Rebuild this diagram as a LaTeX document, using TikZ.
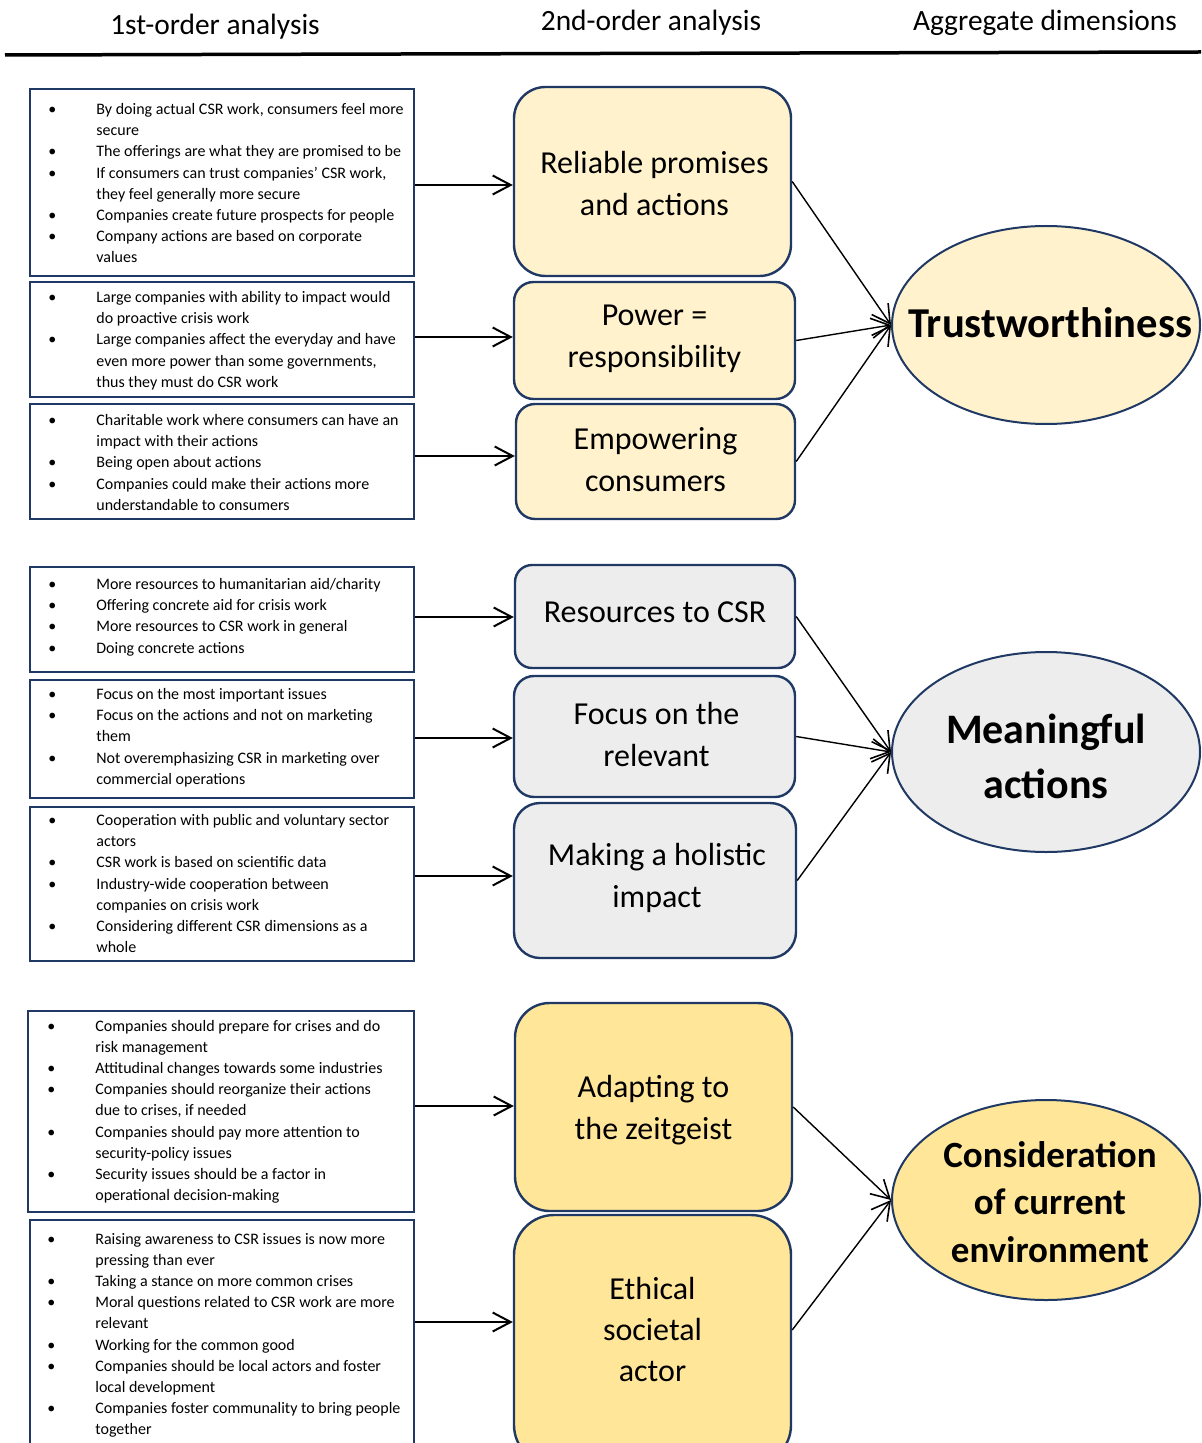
\documentclass[tikz,border=0pt]{standalone}
\usepackage{fontspec}
\setmainfont{Carlito}
\usetikzlibrary{arrows.meta,fit,shapes.geometric,calc}

\definecolor{navy}{HTML}{1F3864}
\definecolor{paleyellow}{HTML}{FFF2CC}
\definecolor{palegrey}{HTML}{EDEDED}
\definecolor{gold}{HTML}{FFE699}

% bullet list used inside the first-order boxes
\newenvironment{codelist}{\begin{tabular}[t]{@{}p{24pt}@{}l@{}}}{\end{tabular}}

\tikzset{
  listbox/.style={draw=navy, line width=1.35pt, inner sep=0pt},
  listtext/.style={anchor=base west, inner sep=0pt, font=\fontsize{8}{10.6}\selectfont},
  codebox/.style={draw=navy, line width=1.2pt, inner sep=0pt},
  codetext/.style={align=center, inner sep=0pt, font=\fontsize{16}{21}\selectfont},
  dimension/.style={ellipse, draw=navy, line width=1pt, inner sep=0pt, minimum width=154pt},
  dimtext/.style={align=center, inner sep=0pt},
  feed/.style={line width=1pt, -{Straight Barb[length=9pt,width=9.5pt,line width=1pt]}},
  link/.style={line width=0.7pt, -{Straight Barb[length=9pt,width=10pt,line width=0.8pt]}},
  header/.style={inner sep=0pt, font=\fontsize{14.7}{17}\selectfont},
}

\begin{document}
\begin{tikzpicture}[x=0.5pt,y=-0.5pt]
\useasboundingbox (0,0) rectangle (1201,1443);

% column headers
\node[header] (h1) at (215,27) {1st-order analysis};
\node[header] (h2) at (651,23) {2nd-order analysis};
\node[header] (h3) at (1045,23) {Aggregate dimensions};
\draw[line width=1.75pt] (5,55) -- (1201,52);

% ---------- first-order boxes ----------
\node[listbox, fit={(30,89) (414,276)}] (L1) {};
\node[listtext] (T1) at (48,114.5) {\begin{codelist}
\textbullet & By doing actual CSR work, consumers feel more\\
 & secure\\
\textbullet & The offerings are what they are promised to be\\
\textbullet & If consumers can trust companies’ CSR work,\\
 & they feel generally more secure\\
\textbullet & Companies create future prospects for people\\
\textbullet & Company actions are based on corporate\\
 & values
\end{codelist}};

\node[listbox, fit={(30,282) (414,397)}] (L2) {};
\node[listtext] (T2) at (48,302.5) {\begin{codelist}
\textbullet & Large companies with ability to impact would\\
 & do proactive crisis work\\
\textbullet & Large companies affect the everyday and have\\
 & even more power than some governments,\\
 & thus they must do CSR work
\end{codelist}};

\node[listbox, fit={(30,404) (414,519)}] (L3) {};
\node[listtext] (T3) at (48,425.5) {\begin{codelist}
\textbullet & Charitable work where consumers can have an\\
 & impact with their actions\\
\textbullet & Being open about actions\\
\textbullet & Companies could make their actions more\\
 & understandable to consumers
\end{codelist}};

\node[listbox, fit={(30,567) (414,672)}] (L4) {};
\node[listtext] (T4) at (48,589.5) {\begin{codelist}
\textbullet & More resources to humanitarian aid/charity\\
\textbullet & Offering concrete aid for crisis work\\
\textbullet & More resources to CSR work in general\\
\textbullet & Doing concrete actions
\end{codelist}};

\node[listbox, fit={(30,680) (414,798)}] (L5) {};
\node[listtext] (T5) at (48,699.5) {\begin{codelist}
\textbullet & Focus on the most important issues\\
\textbullet & Focus on the actions and not on marketing\\
 & them\\
\textbullet & Not overemphasizing CSR in marketing over\\
 & commercial operations
\end{codelist}};

\node[listbox, fit={(30,807) (414,961)}] (L6) {};
\node[listtext] (T6) at (48,825.5) {\begin{codelist}
\textbullet & Cooperation with public and voluntary sector\\
 & actors\\
\textbullet & CSR work is based on scientific data\\
\textbullet & Industry-wide cooperation between\\
 & companies on crisis work\\
\textbullet & Considering different CSR dimensions as a\\
 & whole
\end{codelist}};

\node[listbox, fit={(28,1011) (414,1212)}] (L7) {};
\node[listtext] (T7) at (47,1031) {\begin{codelist}
\textbullet & Companies should prepare for crises and do\\
 & risk management\\
\textbullet & Attitudinal changes towards some industries\\
\textbullet & Companies should reorganize their actions\\
 & due to crises, if needed\\
\textbullet & Companies should pay more attention to\\
 & security-policy issues\\
\textbullet & Security issues should be a factor in\\
 & operational decision-making
\end{codelist}};

\node[listbox, fit={(30,1220) (414,1460)}] (L8) {};
\node[listtext] (T8) at (47,1244) {\begin{codelist}
\textbullet & Raising awareness to CSR issues is now more\\
 & pressing than ever\\
\textbullet & Taking a stance on more common crises\\
\textbullet & Moral questions related to CSR work are more\\
 & relevant\\
\textbullet & Working for the common good\\
\textbullet & Companies should be local actors and foster\\
 & local development\\
\textbullet & Companies foster communality to bring people\\
 & together
\end{codelist}};

% ---------- second-order themes ----------
\node[codebox, fill=paleyellow, rounded corners=15.75pt, fit={(514,87) (791,276)},
  label={[codetext, yshift=-1.25pt, xshift=1pt]center:{Reliable promises\\and actions}}] (M1) {};
\node[codebox, fill=paleyellow, rounded corners=9.75pt, fit={(514,282) (795,399)},
  label={[codetext, yshift=1pt]center:{Power =\\responsibility}}] (M2) {};
\node[codebox, fill=paleyellow, rounded corners=9.5pt, fit={(516,404) (795,519)},
  label={[codetext, yshift=1pt]center:{Empowering\\consumers}}] (M3) {};
\node[codebox, fill=palegrey, rounded corners=8.5pt, fit={(515,565) (795,668)},
  label={[codetext, yshift=2pt]center:{Resources to CSR}}] (M4) {};
\node[codebox, fill=palegrey, rounded corners=10pt, fit={(514,676) (795,797)},
  label={[codetext, yshift=1pt, xshift=1pt]center:{Focus on the\\relevant}}] (M5) {};
\node[codebox, fill=palegrey, rounded corners=13pt, fit={(514,803) (796,958)},
  label={[codetext, yshift=1.5pt, xshift=1pt]center:{Making a holistic\\impact}}] (M6) {};
\node[codebox, fill=gold, rounded corners=17.3pt, fit={(515,1003) (792,1211)},
  label={[codetext, yshift=-1.5pt]center:{Adapting to\\the zeitgeist}}] (M7) {};
\node[codebox, fill=gold, rounded corners=20pt, fit={(514,1215) (791,1465)},
  label={[codetext, font=\fontsize{16}{20.5}\selectfont, yshift=5.5pt]center:{Ethical\\societal\\actor}}] (M8) {};

% ---------- aggregate dimensions ----------
\node[dimension, fill=paleyellow, minimum height=99pt,
  label={[dimtext, yshift=1pt, xshift=2pt, font=\bfseries\fontsize{21.3}{27.5}\selectfont]center:Trustworthiness}] (E1) at (1046,325) {};
\node[dimension, fill=palegrey, minimum height=100pt,
  label={[dimtext, yshift=-2pt, font=\bfseries\fontsize{21}{27.5}\selectfont]center:{Meaningful\\actions}}] (E2) at (1046,752) {};
\node[dimension, fill=gold, minimum height=100pt,
  label={[dimtext, yshift=-1pt, xshift=2pt, font=\bfseries\fontsize{18.5}{23.75}\selectfont]center:{Consideration\\of current\\environment}}] (E3) at (1046,1200) {};

% ---------- first order -> second order ----------
\draw[feed] ($(L1.east)+(0,2.5)$) -- ($(L1.east -| M1.west)+(0,2.5)$);
\draw[feed] ($(L2.east)+(0,-2.5)$) -- ($(L2.east -| M2.west)+(0,-2.5)$);
\draw[feed] ($(L3.east)+(0,-5.5)$) -- ($(L3.east -| M3.west)+(0,-5.5)$);
\draw[feed] ($(L4.east)+(0,-2.5)$) -- ($(L4.east -| M4.west)+(0,-2.5)$);
\draw[feed] ($(L5.east)+(0,-1)$) -- ($(L5.east -| M5.west)+(0,-1)$);
\draw[feed] ($(L6.east)+(0,-8)$) -- ($(L6.east -| M6.west)+(0,-8)$);
\draw[feed] ($(L7.east)+(0,-5.5)$) -- ($(L7.east -| M7.west)+(0,-5.5)$);
\draw[feed] ($(L8.east)+(0,-18)$) -- ($(L8.east -| M8.west)+(0,-18)$);

% ---------- second order -> aggregate ----------
\draw[link] (M1.east) -- (E1.west);
\draw[link] (M2.east) -- (E1.west);
\draw[link] (M3.east) -- (E1.west);
\draw[link] (M4.east) -- (E2.west);
\draw[link] (M5.east) -- (E2.west);
\draw[link] (M6.east) -- (E2.west);
\draw[link] (M7.east) -- (E3.west);
\draw[link] ($(M8.east)+(0,-10)$) -- (E3.west);
\end{tikzpicture}
\end{document}
